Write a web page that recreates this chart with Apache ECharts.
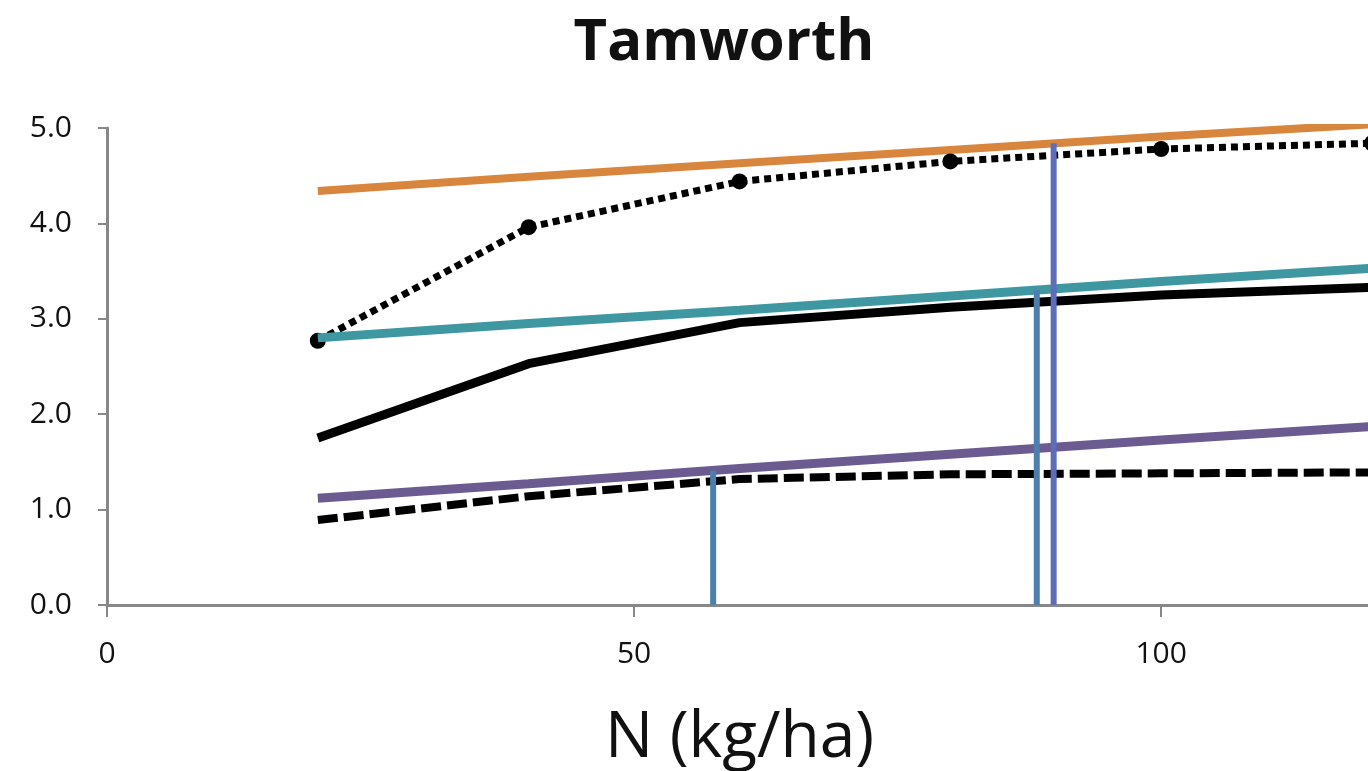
<!DOCTYPE html>
<html>
<head>
<meta charset="utf-8">
<script src="https://cdn.jsdelivr.net/npm/echarts@6/dist/echarts.min.js"></script>
<style>
html,body{margin:0;padding:0;background:#fff;}
#c{width:1368px;height:771px;}
</style>
</head>
<body>
<div id="c"></div>
<script>
// N rates (kg/ha)
const nRates = [20, 40, 60, 80, 100, 120];
// series values
const orangeLine = [4.34, 4.49, 4.63, 4.77, 4.91, 5.04];
const dottedLine = [2.77, 3.96, 4.44, 4.65, 4.78, 4.84];
const tealLine   = [2.80, 2.95, 3.09, 3.24, 3.39, 3.53];
const blackLine  = [1.75, 2.53, 2.96, 3.12, 3.25, 3.33];
const purpleLine = [1.12, 1.27, 1.43, 1.58, 1.73, 1.87];
const dashedLine = [0.89, 1.14, 1.32, 1.37, 1.38, 1.39];
// vertical marker lines: x position and top value
const vlineX   = [57.5, 88.2, 89.8];
const vlineTop = [1.41, 3.30, 4.84];
// axis ticks
const yTicks = [0, 1, 2, 3, 4, 5];
const xTicks = [0, 50, 100];

const pts = arr => nRates.map((x, i) => [x, arr[i]]);
const vColors = ['#4d7fae', '#4d7fae', '#5d6db8'];

const series = [
  {type:'line', data:pts(orangeLine), symbol:'none', lineStyle:{color:'#d8853d', width:8}, z:2},
  {type:'line', data:pts(dottedLine), symbol:'circle', symbolSize:16,
   itemStyle:{color:'#000'}, lineStyle:{color:'#000', width:7, type:[7,5], cap:'butt'}, z:3},
  {type:'line', data:pts(blackLine), symbol:'none', lineStyle:{color:'#000', width:9}, z:3},
  {type:'line', data:pts(tealLine), symbol:'none', lineStyle:{color:'#3f97a2', width:9}, z:4},
  {type:'line', data:pts(purpleLine), symbol:'none', lineStyle:{color:'#6b5b90', width:9}, z:3},
  {type:'line', data:pts(dashedLine), symbol:'none', lineStyle:{color:'#000', width:8, type:[20,6], cap:'butt'}, z:4}
];
vlineX.forEach((x, i) => {
  series.push({type:'line', data:[[x, 0], [x, vlineTop[i]]], symbol:'none',
    lineStyle:{color:vColors[i], width:6}, z:5});
});

const chart = echarts.init(document.getElementById('c'));
chart.setOption({
  animation:false,
  backgroundColor:'#fff',
  title:{text:'Tamworth', left:719, top:9, textAlign:'center',
    textStyle:{fontFamily:'Open Sans', fontWeight:'bold', fontSize:58, color:'#111'}},
  grid:{left:107, top:128, width:1265, height:477, containLabel:false, outerBoundsMode:'none'},
  xAxis:{type:'value', min:0, max:120,
    name:'N (kg/ha)', nameLocation:'middle', nameGap:102,
    nameTextStyle:{fontFamily:'Open Sans', fontSize:64, color:'#111'},
    axisLine:{show:true, lineStyle:{color:'#888', width:3}},
    axisTick:{show:true, length:12, customValues:xTicks, lineStyle:{color:'#888', width:2}},
    axisLabel:{margin:34, fontFamily:'Open Sans', fontSize:30, color:'#111', customValues:xTicks},
    splitLine:{show:false}},
  yAxis:{type:'value', min:0, max:5, interval:1,
    axisLine:{show:true, lineStyle:{color:'#888', width:3}},
    axisTick:{show:true, length:9, lineStyle:{color:'#888', width:2}},
    axisLabel:{margin:35, fontFamily:'Open Sans', fontSize:30, color:'#111',
      formatter:v => yTicks.includes(v) ? v.toFixed(1) : ''},
    splitLine:{show:false}},
  series:series
});
</script>
</body>
</html>
